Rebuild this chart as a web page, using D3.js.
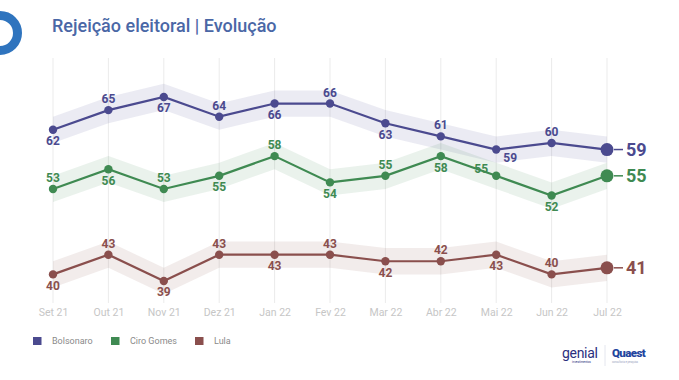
<!DOCTYPE html>
<html><head><meta charset="utf-8">
<script src="https://cdn.jsdelivr.net/npm/d3@7"></script>
<style>
html,body{margin:0;padding:0;background:#fff;}
svg{display:block;font-family:Roboto,"Noto Sans",sans-serif;}
</style></head>
<body>
<svg id="c" width="679" height="380"></svg>
<script>
const months = ["Set 21","Out 21","Nov 21","Dez 21","Jan 22","Fev 22","Mar 22","Abr 22","Mai 22","Jun 22","Jul 22"];
const seriesNames = ["Bolsonaro","Ciro Gomes","Lula"];
const bolsonaro = [62,65,67,64,66,66,63,61,59,60,59];
const ciro = [53,56,53,55,58,54,55,58,55,52,55];
const lula = [40,43,39,43,43,43,42,42,43,40,41];
const margin = 2;

const colors = ["#4b4a8f","#3f8a52","#8a4f4d"];
const values = [bolsonaro, ciro, lula];
// label placement style: phase of alternation (0 => first label below), special offsets
const labelPhase = [0, 1, 0];
const specialOffsets = {"0-8":[14,8], "1-8":[-15,-7]};

const svg = d3.select("#c");
const x = d3.scalePoint().domain(months).range([53,607]);
const y = d3.scaleLinear().domain([30,75]).range([340.1,44.4]);

// logo ring
svg.append("circle").attr("cx",0).attr("cy",33).attr("r",17.5)
  .attr("fill","none").attr("stroke","#2f74be").attr("stroke-width",9);

// title
svg.append("text").attr("x",52).attr("y",32).attr("fill","#4a67a6")
  .attr("font-size",18).attr("font-weight",500).text("Rejeição eleitoral | Evolução");

// gridlines
svg.append("g").selectAll("line").data(months).join("line")
  .attr("x1",d=>x(d)).attr("x2",d=>x(d)).attr("y1",58).attr("y2",303)
  .attr("stroke","#ebebeb").attr("stroke-width",1);

// x axis labels
const xAxis = d3.axisBottom(x).tickSize(0).tickPadding(0);
const gx = svg.append("g").attr("transform","translate(0,309)").call(xAxis);
gx.select(".domain").remove();
gx.selectAll("text").attr("fill","#c6c6c6").attr("font-size",10.5).attr("font-family","Roboto, sans-serif");

const series = seriesNames.map((n,i)=>({name:n, color:colors[i], vals:values[i]}));

const area = d3.area().x((d,i)=>x(months[i])).y0(d=>y(d-margin)).y1(d=>y(d+margin));
const line = d3.line().x((d,i)=>x(months[i])).y(d=>y(d));

// bands
series.forEach(s=>{
  svg.append("path").attr("d",area(s.vals)).attr("fill",s.color).attr("fill-opacity",0.11);
});

series.forEach((s,si)=>{
  const g = svg.append("g");
  g.append("path").attr("d",line(s.vals)).attr("fill","none").attr("stroke",s.color).attr("stroke-width",2.2);
  const n = s.vals.length;
  g.selectAll("circle").data(s.vals).join("circle")
    .attr("cx",(d,i)=>x(months[i])).attr("cy",d=>y(d))
    .attr("r",(d,i)=>i===n-1?6.5:4.2).attr("fill",s.color);
  // point labels
  s.vals.forEach((v,i)=>{
    if(i===n-1) return;
    const below = ((i + labelPhase[si]) % 2) === 0;
    let dx = 0, dy = below ? 11.5 : -11;
    const key = si+"-"+i;
    if(specialOffsets[key]){ dx = specialOffsets[key][0]; dy = specialOffsets[key][1]; }
    g.append("text").attr("x",x(months[i])+dx).attr("y",y(v)+dy)
      .attr("text-anchor","middle").attr("dominant-baseline","central")
      .attr("font-size",12).attr("font-weight",700).attr("fill",s.color).text(v);
  });
  // final label
  const lx = x(months[n-1]), ly = y(s.vals[n-1]);
  g.append("line").attr("x1",lx+7).attr("x2",lx+16).attr("y1",ly).attr("y2",ly)
    .attr("stroke",s.color).attr("stroke-width",1.5);
  g.append("text").attr("x",lx+19).attr("y",ly).attr("dominant-baseline","central")
    .attr("font-size",18).attr("font-weight",700).attr("fill",s.color).text(s.vals[n-1]);
});

// legend
const legX = [33,111,195];
const leg = svg.append("g");
series.forEach((s,i)=>{
  leg.append("rect").attr("x",legX[i]).attr("y",337).attr("width",8.5).attr("height",8).attr("fill",s.color);
  leg.append("text").attr("x",legX[i]+19).attr("y",341).attr("dominant-baseline","central")
    .attr("font-size",9).attr("fill","#8a8a8a").text(s.name);
});

// logos
const lg = svg.append("g");
lg.append("text").attr("x",562).attr("y",358).attr("font-size",14).attr("font-weight",400)
  .attr("fill","#2b2f7e").attr("letter-spacing",-0.3).text("genial");
lg.append("text").attr("x",572).attr("y",363).attr("font-size",3).attr("fill","#2b2f7e").text("investimentos");
lg.append("line").attr("x1",605).attr("x2",605).attr("y1",345).attr("y2",366).attr("stroke","#dde0ea").attr("stroke-width",0.8);
lg.append("text").attr("x",612).attr("y",357).attr("font-size",11.5).attr("font-weight",900)
  .attr("fill","#23449e").attr("letter-spacing",-0.6).text("Quaest");
lg.append("text").attr("x",612).attr("y",363).attr("font-size",2.6).attr("fill","#9aa3c0").text("consultoria e pesquisa");
</script>
</body></html>
